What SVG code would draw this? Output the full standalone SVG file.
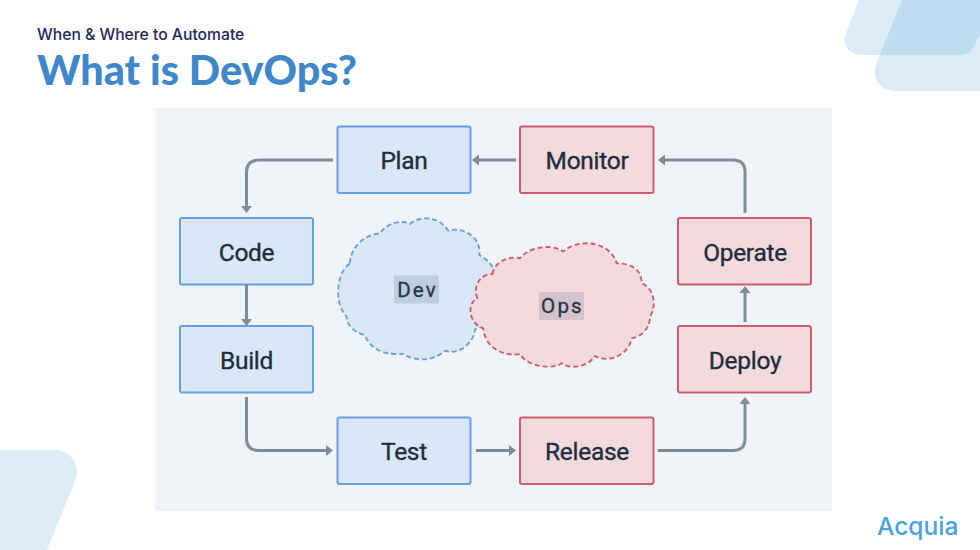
<svg xmlns="http://www.w3.org/2000/svg" width="980" height="550" viewBox="0 0 980 550">
  <style>
    .corner { fill: #3b97d3; fill-opacity: .18; }
    .box { stroke-width: 2; }
    .dev { fill: #dae7f6; stroke: #659fe2; }
    .ops { fill: #f3dadd; stroke: #cd5c6e; }
    .label { font-family: "Roboto", "Liberation Sans", sans-serif; font-size: 24.5px; font-weight: 400; fill: #1f2d3d; stroke: #1f2d3d; stroke-width: .35px; text-anchor: middle; letter-spacing: -.3px; }
    .tag { font-family: "Roboto", "Liberation Sans", sans-serif; font-size: 20.5px; font-weight: 400; fill: #263648; stroke: #263648; stroke-width: .3px; text-anchor: middle; letter-spacing: 2.2px; }
    .cloud { stroke-width: 5.5; stroke-dasharray: 15 9; stroke-linejoin: round; }
    .tagbg { fill: #4a5f73; fill-opacity: .18; }
    .link { fill: none; stroke: #7f8c9a; stroke-width: 3; marker-end: url(#head); }
  </style>
  <defs>
    <marker id="head" markerUnits="userSpaceOnUse" viewBox="0 0 7 11" markerWidth="7" markerHeight="11" refX="1" refY="5.500" orient="auto">
      <path d="M0,0 L7,5.500 L0,11 Z" fill="#7f8c9a"/>
    </marker>
  </defs>

  <rect width="980" height="550" fill="#ffffff"/>

  <!-- corner decoration -->
  <path class="corner" d="M861,-5 L846,33 C841,45 849,55 862,55 L960,55 C966,55 971,52 974,46 L1000,-5 Z"/>
  <path class="corner" d="M904,-5 L877,62 C870,78 880,91 896,91 L985,91 L985,-5 Z"/>
  <path class="corner" d="M-5,450 L55,450 C71,450 82,466 75,481 L45,555 L-5,555 Z"/>

  <text x="37" y="39.500" font-family="Inter, 'Liberation Sans', sans-serif" font-size="15.700" font-weight="500" fill="#1f2a5c">When &amp; Where to Automate</text>
  <text x="37" y="85" font-family="Lato, 'Liberation Sans', sans-serif" font-size="41.300" font-weight="900" fill="#3f87c9">What is DevOps?</text>

  <rect x="155" y="108" width="677" height="403" fill="#f0f4f8"/>

  <g id="connectors">
    <path class="link" d="M333,160 H259 Q246.500,160 246.500,172.500 V207"/>
    <path class="link" d="M246.500,285 V320"/>
    <path class="link" d="M246.500,397 V438 Q246.500,450.500 259,450.500 H327"/>
    <path class="link" d="M476,450.500 H510"/>
    <path class="link" d="M658,450.500 H733 Q745,450.500 745,438.500 V403"/>
    <path class="link" d="M745,322 V292"/>
    <path class="link" d="M745,213 V172 Q745,160 733,160 H664"/>
    <path class="link" d="M516,160 H478"/>
  </g>

  <g id="node-plan"><rect class="box dev" x="337.500" y="126.500" width="133" height="66.500" rx="2"/><text class="label" x="404" y="169">Plan</text></g>
  <g id="node-code"><rect class="box dev" x="180" y="218" width="133" height="66.500" rx="2"/><text class="label" x="246.500" y="260.500">Code</text></g>
  <g id="node-build"><rect class="box dev" x="180" y="326" width="133" height="66.500" rx="2"/><text class="label" x="246.500" y="368.500">Build</text></g>
  <g id="node-test"><rect class="box dev" x="337.500" y="417.500" width="133" height="66.500" rx="2"/><text class="label" x="404" y="459.500">Test</text></g>
  <g id="node-release"><rect class="box ops" x="520" y="417.500" width="133.500" height="66.500" rx="2"/><text class="label" x="587" y="459.500">Release</text></g>
  <g id="node-deploy"><rect class="box ops" x="678" y="326" width="133" height="66.500" rx="2"/><text class="label" x="745" y="368.500">Deploy</text></g>
  <g id="node-operate"><rect class="box ops" x="678" y="218" width="133" height="66.500" rx="2"/><text class="label" x="745" y="260.500">Operate</text></g>
  <g id="node-monitor"><rect class="box ops" x="520" y="126.500" width="133.500" height="66.500" rx="2"/><text class="label" x="587" y="169">Monitor</text></g>

  <g id="cloud-dev">
    <path class="cloud dev" transform="translate(320 200) scale(.3333)" d="M90,190 C90,150 125,105 180,100 C195,75 240,55 270,72 C290,52 350,40 385,92 C420,80 485,105 478,165 C495,175 515,190 525,215 L500,300 L485,380 L465,388 C465,420 420,470 375,452 C340,485 285,485 250,462 C215,465 155,460 135,405 C110,400 80,380 80,350 C40,310 50,215 90,190 Z"/>
  </g>
  <g id="cloud-ops">
    <path class="cloud ops" transform="translate(320 200) scale(.3333)" d="M518,222 C520,190 565,165 600,175 C625,140 700,130 730,155 C770,115 870,120 890,190 C930,190 965,205 965,250 C1005,265 1010,320 990,350 C990,385 965,410 935,415 C925,470 860,490 825,468 C805,500 750,510 725,490 C700,510 620,500 600,462 C560,470 495,450 490,385 C445,370 440,310 472,295 C455,250 490,220 518,222 Z"/>
  </g>
  <g id="tag-dev"><rect class="tagbg" x="394" y="275.500" width="45" height="28" rx="1"/><text class="tag" x="417.500" y="296.500">Dev</text></g>
  <g id="tag-ops"><rect class="tagbg" x="539" y="292" width="45" height="28" rx="1"/><text class="tag" x="562.500" y="313">Ops</text></g>

  <text x="877" y="534.500" font-family="Inter, 'Liberation Sans', sans-serif" font-size="24.500" font-weight="500" fill="#4aa3df">Acquia</text>
</svg>
